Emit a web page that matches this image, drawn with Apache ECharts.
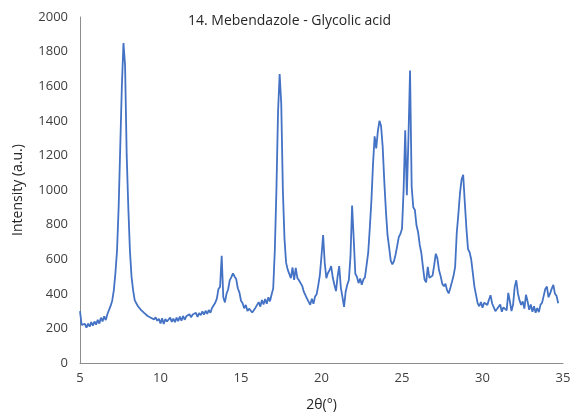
<!DOCTYPE html>
<html>
<head>
<meta charset="utf-8">
<script src="https://cdn.jsdelivr.net/npm/echarts@6/dist/echarts.min.js"></script>
<style>
html,body{margin:0;padding:0;background:#fff;}
#chart{width:576px;height:420px;}
</style>
</head>
<body>
<div id="chart"></div>
<script>
var chartTitle = "14. Mebendazole - Glycolic acid";
var xAxisName = "2θ(°)";
var yAxisName = "Intensity (a.u.)";
var xTicks = [5, 10, 15, 20, 25, 30, 35];
var yTicks = [0, 200, 400, 600, 800, 1000, 1200, 1400, 1600, 1800, 2000];

var twoTheta = [
  5.0, 5.1, 5.2, 5.3, 5.4, 5.5, 5.6, 5.7, 5.8, 5.9,
  6.0, 6.1, 6.2, 6.3, 6.4, 6.5, 6.6, 6.7, 6.8, 6.9,
  7.0, 7.1, 7.2, 7.3, 7.4, 7.5, 7.6, 7.7, 7.8, 7.9,
  8.0, 8.1, 8.2, 8.3, 8.4, 8.5, 8.6, 8.7, 8.8, 8.9,
  9.0, 9.1, 9.2, 9.3, 9.4, 9.5, 9.6, 9.7, 9.8, 9.9,
  10.0, 10.1, 10.2, 10.3, 10.4, 10.5, 10.6, 10.7, 10.8, 10.9,
  11.0, 11.1, 11.2, 11.3, 11.4, 11.5, 11.6, 11.7, 11.8, 11.9,
  12.0, 12.1, 12.2, 12.3, 12.4, 12.5, 12.6, 12.7, 12.8, 12.9,
  13.0, 13.1, 13.2, 13.3, 13.4, 13.5, 13.6, 13.7, 13.8, 13.9,
  14.0, 14.1, 14.2, 14.3, 14.4, 14.5, 14.6, 14.7, 14.8, 14.9,
  15.0, 15.1, 15.2, 15.3, 15.4, 15.5, 15.6, 15.7, 15.8, 15.9,
  16.0, 16.1, 16.2, 16.3, 16.4, 16.5, 16.6, 16.7, 16.8, 16.9,
  17.0, 17.1, 17.2, 17.3, 17.4, 17.5, 17.6, 17.7, 17.8, 17.9,
  18.0, 18.1, 18.2, 18.3, 18.4, 18.5, 18.6, 18.7, 18.8, 18.9,
  19.0, 19.1, 19.2, 19.3, 19.4, 19.5, 19.6, 19.7, 19.8, 19.9,
  20.0, 20.1, 20.2, 20.3, 20.4, 20.5, 20.6, 20.7, 20.8, 20.9,
  21.0, 21.1, 21.2, 21.3, 21.4, 21.5, 21.6, 21.7, 21.8, 21.9,
  22.0, 22.1, 22.2, 22.3, 22.4, 22.5, 22.6, 22.7, 22.8, 22.9,
  23.0, 23.1, 23.2, 23.3, 23.4, 23.5, 23.6, 23.7, 23.8, 23.9,
  24.0, 24.1, 24.2, 24.3, 24.4, 24.5, 24.6, 24.7, 24.8, 24.9,
  25.0, 25.1, 25.2, 25.3, 25.4, 25.5, 25.6, 25.7, 25.8, 25.9,
  26.0, 26.1, 26.2, 26.3, 26.4, 26.5, 26.6, 26.7, 26.8, 26.9,
  27.0, 27.1, 27.2, 27.3, 27.4, 27.5, 27.6, 27.7, 27.8, 27.9,
  28.0, 28.1, 28.2, 28.3, 28.4, 28.5, 28.6, 28.7, 28.8, 28.9,
  29.0, 29.1, 29.2, 29.3, 29.4, 29.5, 29.6, 29.7, 29.8, 29.9,
  30.0, 30.1, 30.2, 30.3, 30.4, 30.5, 30.6, 30.7, 30.8, 30.9,
  31.0, 31.1, 31.2, 31.3, 31.4, 31.5, 31.6, 31.7, 31.8, 31.9,
  32.0, 32.1, 32.2, 32.3, 32.4, 32.5, 32.6, 32.7, 32.8, 32.9,
  33.0, 33.1, 33.2, 33.3, 33.4, 33.5, 33.6, 33.7, 33.8, 33.9,
  34.0, 34.1, 34.2, 34.3, 34.4, 34.5, 34.6, 34.7
];

var intensity = [
  300, 220, 212, 226, 204, 228, 210, 236, 216, 240,
  222, 250, 228, 262, 240, 270, 248, 282, 290, 330,
  360, 420, 520, 650, 900, 1250, 1600, 1850, 1720, 1200,
  900, 650, 500, 420, 362, 352, 328, 324, 306, 304,
  288, 292, 272, 280, 262, 270, 252, 264, 244, 256,
  228, 258, 226, 254, 240, 232, 262, 238, 256, 236,
  262, 242, 268, 244, 272, 250, 270, 262, 282, 264,
  280, 270, 290, 266, 288, 276, 298, 280, 302, 284,
  306, 290, 318, 314, 348, 372, 428, 440, 620, 380,
  350, 400, 425, 478, 496, 518, 500, 486, 432, 408,
  360, 346, 316, 336, 300, 314, 320, 292, 284, 320,
  320, 352, 326, 364, 338, 370, 342, 380, 356, 396,
  430, 650, 1000, 1450, 1670, 1500, 1000, 720, 580, 540,
  530, 490, 552, 480, 550, 492, 478, 470, 446, 412,
  404, 372, 368, 336, 372, 342, 384, 398, 450, 510,
  620, 740, 580, 490, 520, 536, 560, 494, 452, 416,
  500, 560, 436, 382, 324, 412, 452, 480, 616, 910,
  720, 516, 498, 462, 488, 452, 482, 496, 566, 636,
  780, 940, 1150, 1310, 1240, 1340, 1400, 1370, 1250, 1050,
  880, 740, 668, 592, 570, 588, 626, 676, 728, 746,
  776, 1000, 1345, 970, 1300, 1690, 1020, 900, 884, 796,
  756, 684, 636, 556, 482, 466, 556, 492, 498, 506,
  566, 632, 604, 536, 502, 458, 444, 458, 420, 402,
  434, 468, 504, 556, 750, 860, 980, 1060, 1088, 928,
  780, 658, 640, 598, 520, 440, 392, 345, 328, 352,
  320, 348, 356, 336, 366, 392, 344, 338, 300, 312,
  316, 338, 296, 322, 330, 304, 405, 356, 300, 338,
  440, 478, 402, 362, 336, 356, 314, 394, 356, 308,
  338, 296, 328, 290, 318, 294, 336, 348, 388, 428,
  442, 380, 402, 430, 452, 400, 388, 345
];

var seriesData = twoTheta.map(function (x, i) { return [x, intensity[i]]; });

var labelFont = "Open Sans";
var chart = echarts.init(document.getElementById('chart'), null, {renderer: 'canvas'});
chart.setOption({
  animation: false,
  backgroundColor: '#ffffff',
  title: {
    text: chartTitle,
    left: 183,
    top: 9,
    textStyle: {fontFamily: labelFont, fontSize: 14, fontWeight: 'normal', color: '#262626'}
  },
  grid: {left: 80, right: 13, top: 17, bottom: 57, containLabel: false},
  xAxis: {
    type: 'value',
    min: xTicks[0],
    max: xTicks[xTicks.length - 1],
    interval: 5,
    name: xAxisName,
    nameLocation: 'middle',
    nameGap: 35,
    nameTextStyle: {fontFamily: labelFont, fontSize: 14, color: '#262626'},
    axisLine: {show: true, lineStyle: {color: '#8c8c8c', width: 1}},
    axisTick: {show: false},
    splitLine: {show: false},
    axisLabel: {fontFamily: labelFont, fontSize: 13, color: '#404040', margin: 9,
      formatter: function (v) { return String(v); }}
  },
  yAxis: {
    type: 'value',
    min: yTicks[0],
    max: yTicks[yTicks.length - 1],
    interval: 200,
    name: yAxisName,
    nameLocation: 'middle',
    nameGap: 55,
    nameTextStyle: {fontFamily: labelFont, fontSize: 14, color: '#262626'},
    axisLine: {show: true, lineStyle: {color: '#8c8c8c', width: 1}},
    axisTick: {show: false},
    splitLine: {show: false},
    axisLabel: {fontFamily: labelFont, fontSize: 13, color: '#404040', margin: 12,
      formatter: function (v) { return String(v); }}
  },
  series: [{
    type: 'line',
    data: seriesData,
    showSymbol: false,
    smooth: false,
    lineStyle: {color: '#4472C4', width: 1.8},
    itemStyle: {color: '#4472C4'}
  }]
});
</script>
</body>
</html>
